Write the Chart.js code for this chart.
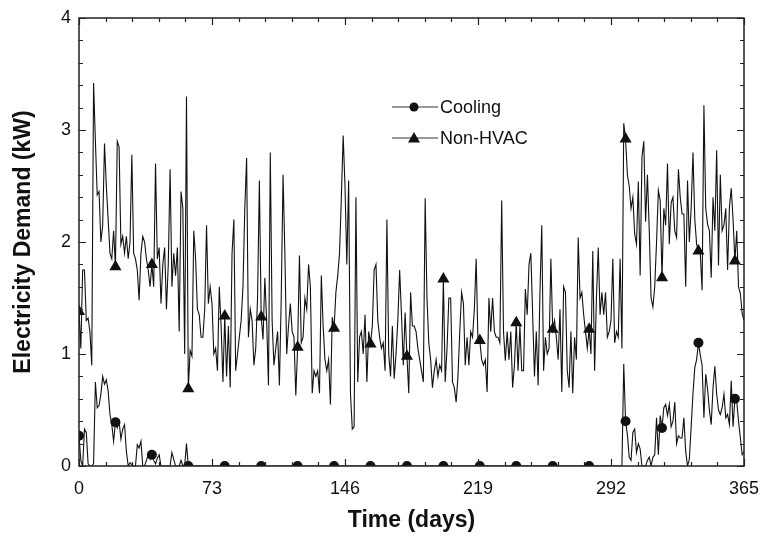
<!DOCTYPE html>
<html lang="en">
<head>
  <meta charset="UTF-8" />
  <title>Electricity Demand</title>
  <script src="https://cdn.jsdelivr.net/npm/chart.js"></script>
  <style>
    body { margin: 0; background: #fff; }
    #wrap { width: 765px; height: 540px; }
  </style>
</head>
<body>
  <div id="wrap"><canvas id="chart" width="765" height="540"></canvas></div>

  <script>
    // x tick labels (days) and y ticks
    const xTicks = [0, 73, 146, 219, 292, 365];
    const yTicks = [0, 1, 2, 3, 4];

    // daily values, day 0 .. 365 (kW)
    const nonHvac = [
      1.38, 1.05, 1.75, 1.75, 1.3, 1.32, 1.2, 0.9, 3.42, 2.9,
      2.42, 2.45, 2.0, 2.15, 2.88, 2.5, 2.2, 1.9, 1.85, 2.1,
      1.78, 2.9, 2.85, 1.98, 2.05, 1.9, 2.05, 1.85, 2.0, 2.78,
      1.9, 1.85, 1.75, 1.48, 1.9, 2.05, 2.0, 1.85, 1.75, 1.6,
      1.8, 1.6, 2.7, 1.85, 1.95, 1.45, 1.8, 1.95, 1.4, 1.8,
      2.65, 1.6, 1.9, 1.7, 1.95, 1.2, 2.45, 2.3, 1.0, 3.3,
      0.69, 1.03, 0.98, 2.1, 1.85, 1.4, 1.35, 1.15, 1.15, 1.4,
      2.15, 1.45, 1.6, 1.45, 1.0, 1.05, 0.85, 1.6, 1.25, 0.75,
      1.34, 0.8, 1.25, 0.7, 1.9, 2.2, 0.85, 1.0, 1.15, 1.3,
      1.6, 2.3, 2.75, 1.15, 1.4, 1.3, 0.9, 1.05, 1.5, 2.55,
      1.33, 1.13, 1.68, 1.3, 0.72, 2.8, 1.3, 0.9, 1.05, 1.2,
      0.72, 1.5, 2.6, 1.9, 1.0, 1.25, 1.45, 1.2, 1.15, 0.63,
      1.06, 1.88, 1.1, 1.15, 1.5, 1.4, 1.8, 1.6, 0.65, 0.85,
      0.8, 0.85, 0.65, 1.7, 1.25, 0.95, 0.85, 0.95, 0.55, 1.33,
      1.23, 1.55, 1.7, 1.9, 2.4, 2.95, 2.5, 1.8, 2.55, 0.65,
      0.33, 0.35, 2.4, 0.75, 1.15, 1.2, 1.0, 1.35, 0.75, 1.2,
      1.09, 1.25, 1.75, 1.8, 1.3, 1.15, 1.05, 1.1, 0.85, 2.2,
      1.0, 0.8, 1.25, 0.78, 1.0, 1.3, 1.75, 1.35, 0.9, 1.37,
      0.98, 0.65, 1.55, 1.25, 1.25, 1.2, 1.05, 0.95, 0.85, 0.75,
      2.39, 1.5, 1.1, 0.95, 0.7, 0.85, 0.95, 0.8, 0.9, 0.85,
      1.67, 0.75, 1.05, 1.5, 1.5, 0.75, 0.7, 0.57, 0.8, 1.2,
      1.55, 1.45, 0.9, 1.15, 0.9, 1.2, 1.15, 1.4, 1.85, 1.1,
      1.12, 0.95, 0.9, 0.95, 0.66, 1.5, 1.2, 1.5, 1.2, 1.15,
      1.15, 1.1, 2.37, 1.2, 0.94, 1.2, 0.95, 1.2, 0.7, 0.9,
      1.28, 0.85, 1.25, 0.85, 0.85, 1.58, 1.35, 1.8, 1.9, 1.35,
      0.8, 1.2, 0.72, 1.55, 2.15, 0.85, 1.15, 1.0, 1.05, 1.85,
      1.22, 1.3, 1.15, 0.95, 1.4, 0.66, 1.6, 1.55, 0.85, 0.7,
      1.2, 0.65, 1.15, 0.95, 2.04, 1.5, 1.55, 1.35, 1.2, 1.05,
      1.22, 1.0, 1.92, 0.85, 1.5, 1.95, 1.35, 1.55, 1.35, 1.55,
      1.15, 1.2, 1.3, 1.85, 1.1, 1.2, 1.15, 1.85, 1.05, 3.06,
      2.92, 2.6, 2.5, 2.3, 2.4, 2.07, 1.98, 2.54, 1.7, 2.76,
      2.9, 2.18, 2.6, 2.1, 1.5, 1.42, 1.6, 2.0, 2.46, 2.37,
      1.68, 2.3, 2.15, 2.7, 1.98, 2.35, 2.4, 2.1, 2.04, 2.65,
      2.4, 2.25, 2.25, 1.6, 2.55, 2.0, 2.3, 2.8, 2.2, 1.98,
      1.92, 1.9, 1.57, 3.22, 2.3, 2.16, 2.1, 1.68, 2.4, 2.1,
      2.82, 1.79, 2.6, 2.1, 2.15, 2.3, 1.75, 2.31, 2.48, 2.2,
      1.83, 2.1, 1.6, 1.54, 1.36, 1.3
    ];

    const cooling = [
      0.27, 0.05, 0, 0.33, 0.3, 0.02, 0, 0, 0.02, 0.75,
      0.52, 0.54, 0.64, 0.8, 0.73, 0.77, 0.67, 0.46, 0.37, 0.22,
      0.39, 0.34, 0.4, 0.24, 0.33, 0.37, 0.13, 0, 0.03, 0.01,
      0, 0, 0.19, 0.16, 0.22, 0, 0, 0.05, 0.1, 0.06,
      0.1, 0.05, 0.02, 0.07, 0.1, 0, 0, 0, 0, 0,
      0, 0.12, 0.06, 0, 0, 0, 0.05, 0, 0, 0.2,
      0, 0, 0, 0, 0, 0, 0, 0, 0, 0,
      0, 0, 0, 0, 0, 0, 0, 0, 0, 0,
      0, 0, 0, 0, 0, 0, 0, 0, 0, 0,
      0, 0, 0, 0, 0, 0, 0, 0, 0, 0,
      0, 0, 0, 0, 0, 0, 0, 0, 0, 0,
      0, 0, 0, 0, 0, 0, 0, 0, 0, 0,
      0, 0, 0, 0, 0, 0, 0, 0, 0, 0,
      0, 0, 0, 0, 0, 0, 0, 0, 0, 0,
      0, 0, 0, 0, 0, 0, 0, 0, 0, 0,
      0, 0, 0, 0, 0, 0, 0, 0, 0, 0,
      0, 0, 0, 0, 0, 0, 0, 0, 0, 0,
      0, 0, 0, 0, 0, 0, 0, 0, 0, 0,
      0, 0, 0, 0, 0, 0, 0, 0, 0, 0,
      0, 0, 0, 0, 0, 0, 0, 0, 0, 0,
      0, 0, 0, 0, 0, 0, 0, 0, 0, 0,
      0, 0, 0, 0, 0, 0, 0, 0, 0, 0,
      0, 0, 0, 0, 0, 0, 0, 0, 0, 0,
      0, 0, 0, 0, 0, 0, 0, 0, 0, 0,
      0, 0, 0, 0, 0, 0, 0, 0, 0, 0,
      0, 0, 0, 0, 0, 0, 0, 0, 0, 0,
      0, 0, 0, 0, 0, 0, 0, 0, 0, 0,
      0, 0, 0, 0, 0, 0, 0, 0, 0, 0,
      0, 0, 0, 0, 0, 0, 0, 0, 0, 0,
      0, 0, 0, 0, 0, 0, 0, 0, 0, 0.91,
      0.4, 0.28, 0.08, 0.05, 0.3, 0.33, 0.12, 0.2, 0.15, 0,
      0, 0, 0.05, 0.08, 0, 0.08, 0.1, 0.43, 0.1, 0.45,
      0.34, 0.52, 0.55, 0.45, 0.55, 0.35, 0.4, 0.57, 0.2, 0.27,
      0.25, 0.25, 0.43, 0.13, 0, 0.06, 0.35, 0.65, 0.88, 0.95,
      1.1, 0.99, 0.9, 0.43, 0.82, 0.69, 0.5, 0.37, 0.7, 0.89,
      0.64, 0.5, 0.46, 0.52, 0.64, 0.43, 0.46, 0.37, 0.76, 0.35,
      0.6, 0.58, 0.4, 0.25, 0.1, 0.13
    ];

    const FONT = '"Liberation Sans", Arial, Helvetica, sans-serif';
    const markEvery = 20;

    const toPoints = arr => arr.map((v, i) => ({ x: i, y: v }));
    const markerRadius = r => ctx => (ctx.dataIndex % markEvery === 0 ? r : 0);

    // frame with inward ticks on all four sides + legend drawn inside the plot
    const framePlugin = {
      id: 'frame',
      afterDraw(chart) {
        const { ctx, chartArea: a, scales: { x, y } } = chart;
        ctx.save();
        ctx.strokeStyle = '#222';
        ctx.lineWidth = 1.5;
        ctx.strokeRect(a.left, a.top, a.right - a.left, a.bottom - a.top);

        ctx.lineWidth = 1.2;
        ctx.beginPath();
        for (let i = 0; i <= 25; i++) {
          const px = Math.round(x.getPixelForValue(i * 14.6)) + 0.5;
          const len = i % 5 === 0 ? 7 : 4;
          ctx.moveTo(px, a.bottom); ctx.lineTo(px, a.bottom - len);
          ctx.moveTo(px, a.top); ctx.lineTo(px, a.top + len);
        }
        for (let i = 0; i <= 20; i++) {
          const py = Math.round(y.getPixelForValue(i * 0.2)) + 0.5;
          const len = i % 5 === 0 ? 7 : 4;
          ctx.moveTo(a.left, py); ctx.lineTo(a.left + len, py);
          ctx.moveTo(a.right, py); ctx.lineTo(a.right - len, py);
        }
        ctx.stroke();

        // legend
        const rows = [
          { label: 'Cooling', style: 'circle', y: 107 },
          { label: 'Non-HVAC', style: 'triangle', y: 138 }
        ];
        const lx0 = 392, lx1 = 438, mx = 414;
        ctx.font = '18px ' + FONT;
        ctx.textBaseline = 'middle';
        ctx.fillStyle = '#111';
        rows.forEach(r => {
          ctx.beginPath();
          ctx.lineWidth = 1;
          ctx.strokeStyle = '#333';
          ctx.moveTo(lx0, r.y); ctx.lineTo(lx1, r.y);
          ctx.stroke();
          ctx.beginPath();
          if (r.style === 'circle') {
            ctx.arc(mx, r.y, 4.5, 0, Math.PI * 2);
          } else {
            ctx.moveTo(mx, r.y - 6);
            ctx.lineTo(mx + 6, r.y + 4.5);
            ctx.lineTo(mx - 6, r.y + 4.5);
            ctx.closePath();
          }
          ctx.fill();
          ctx.fillText(r.label, lx1 + 2, r.y + 1);
        });
        ctx.restore();
      }
    };

    const chart = new Chart(document.getElementById('chart'), {
      type: 'line',
      data: {
        datasets: [
          {
            label: 'Cooling',
            data: toPoints(cooling),
            borderColor: '#111',
            borderWidth: 1.1,
            pointStyle: 'circle',
            pointRadius: markerRadius(5),
            pointHoverRadius: markerRadius(5),
            pointBackgroundColor: '#111',
            pointBorderWidth: 0,
            tension: 0
          },
          {
            label: 'Non-HVAC',
            data: toPoints(nonHvac),
            borderColor: '#111',
            borderWidth: 1.1,
            pointStyle: 'triangle',
            pointRadius: markerRadius(7),
            pointHoverRadius: markerRadius(7),
            pointBackgroundColor: '#111',
            pointBorderWidth: 0,
            tension: 0
          }
        ]
      },
      options: {
        responsive: false,
        animation: false,
        layout: { padding: { top: 18, right: 21, left: 0, bottom: 0 } },
        plugins: {
          legend: { display: false },
          tooltip: { enabled: false }
        },
        scales: {
          x: {
            type: 'linear',
            min: 0,
            max: 365,
            grid: { display: false, drawTicks: false },
            border: { display: false },
            afterFit: s => { s.height = 74; s.paddingLeft = 0; s.paddingRight = 0; },
            afterBuildTicks: s => { s.ticks = xTicks.map(v => ({ value: v })); },
            ticks: {
              padding: 12,
              maxRotation: 0,
              color: '#111',
              font: { family: FONT, size: 18 }
            },
            title: {
              display: true,
              text: 'Time (days)',
              color: '#111',
              padding: { top: 0, bottom: 6 },
              font: { family: FONT, size: 23, weight: 'bold' }
            }
          },
          y: {
            min: 0,
            max: 4,
            grid: { display: false, drawTicks: false },
            border: { display: false },
            afterFit: s => { s.width = 79; s.paddingTop = 0; s.paddingBottom = 0; },
            afterBuildTicks: s => { s.ticks = yTicks.map(v => ({ value: v })); },
            ticks: {
              padding: 8,
              color: '#111',
              font: { family: FONT, size: 18 }
            },
            title: {
              display: true,
              text: 'Electricity Demand (kW)',
              color: '#111',
              padding: { top: 10, bottom: 0 },
              font: { family: FONT, size: 23, weight: 'bold' }
            }
          }
        }
      },
      plugins: [framePlugin]
    });
  </script>
</body>
</html>
